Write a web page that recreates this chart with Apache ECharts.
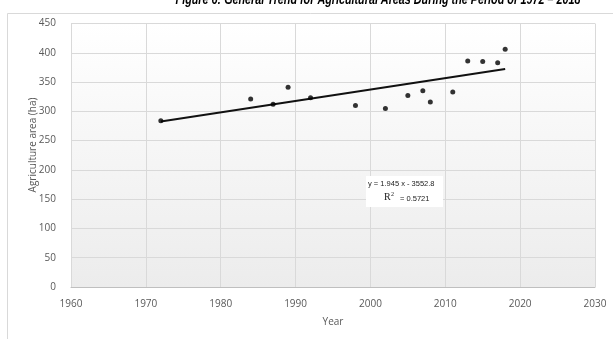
<!DOCTYPE html>
<html>
<head>
<meta charset="utf-8">
<script src="https://cdn.jsdelivr.net/npm/echarts@6/dist/echarts.min.js"></script>
<style>
  html, body { margin: 0; padding: 0; background: #ffffff; }
  #chart { width: 613px; height: 339px; }
</style>
</head>
<body>
<div id="chart"></div>
<script>
// Survey years and measured agricultural area (ha)
const years = [1972, 1984, 1987, 1989, 1992, 1998, 2002, 2005, 2007, 2008, 2011, 2013, 2015, 2017, 2018];
const areas = [284, 321, 312, 341, 323, 310, 305, 327, 335, 316, 333, 386, 385, 383, 406];

// Linear trend reported on the chart
const trendSlope = 1.945;
const trendIntercept = -3552.8;
const trendR2 = '0.5721';

// Axis ranges
const xRange = [1960, 2030];
const yRange = [0, 450];

const titleText = 'Figure 6: General Trend for Agricultural Areas During the Period of 1972 \u2013 2018';
const yAxisTitle = 'Agriculture area (ha)';

const points = years.map((y, i) => [y, areas[i]]);
const trendYears = [years[0], years[years.length - 1]];
const trendPoints = trendYears.map(x => [x, +(trendSlope * x + trendIntercept).toFixed(2)]);

const chart = echarts.init(document.getElementById('chart'), null, { renderer: 'canvas' });

const labelFont = 'Open Sans';
const axisGray = '#595959';

chart.setOption({
  animation: false,
  backgroundColor: '#ffffff',
  textStyle: { fontFamily: labelFont },
  grid: { left: 71, right: 18, top: 23.5, bottom: 52, containLabel: false },
  xAxis: {
    type: 'value',
    min: xRange[0], max: xRange[1], interval: 10,
    name: 'Year', nameLocation: 'middle', nameGap: 30,
    nameTextStyle: { color: axisGray, fontSize: 10, fontFamily: labelFont },
    axisLine: { lineStyle: { color: '#bfbfbf', width: 1 } },
    axisTick: { show: false },
    axisLabel: { color: axisGray, fontSize: 10, margin: 12, fontFamily: labelFont,
      formatter: v => String(v) },
    splitLine: { show: true, lineStyle: { color: '#d9d9d9', width: 1 } }
  },
  yAxis: {
    type: 'value',
    min: yRange[0], max: yRange[1], interval: 50,
    axisLine: { show: false },
    axisTick: { show: false },
    axisLabel: { color: axisGray, fontSize: 10, margin: 15, fontFamily: labelFont },
    splitLine: { show: true, lineStyle: { color: '#d9d9d9', width: 1 } }
  },
  graphic: [
    // outer chart frame
    { type: 'rect', z: -10, silent: true,
      shape: { x: 7.5, y: 13.5, width: 700, height: 400 },
      style: { fill: null, stroke: '#d9d9d9', lineWidth: 1 } },
    // soft shaded plot background
    { type: 'rect', z: -5, silent: true,
      shape: { x: 71, y: 23.5, width: 524, height: 263.5 },
      style: {
        fill: new echarts.graphic.LinearGradient(0, 0, 0, 1, [
          { offset: 0, color: '#ffffff' },
          { offset: 1, color: '#ececec' }
        ])
      } },
    // vertical axis title
    { type: 'text', x: 33, y: 145, rotation: Math.PI / 2, silent: true,
      style: { text: yAxisTitle, fill: axisGray, align: 'center', verticalAlign: 'middle',
        font: '10px "Open Sans", sans-serif' } },
    // title, partly above the frame
    { type: 'text', x: 378, y: 0, scaleX: 0.77, silent: true,
      style: { text: titleText, fill: '#000000', align: 'center', verticalAlign: 'middle',
        font: 'bold italic 14px "Liberation Sans", sans-serif' } },
    // trend equation box
    { type: 'rect', silent: true, z: 20,
      shape: { x: 366, y: 176, width: 77, height: 31 },
      style: { fill: '#ffffff' } },
    { type: 'text', silent: true, z: 21, x: 368, y: 180,
      style: { text: 'y = ' + trendSlope + ' x - ' + Math.abs(trendIntercept), fill: '#222222', font: '7.5px "Liberation Sans", sans-serif' } },
    { type: 'text', silent: true, z: 21, x: 384, y: 192,
      style: { text: 'R', fill: '#222222', font: '10px "Liberation Serif", serif' } },
    { type: 'text', silent: true, z: 21, x: 391, y: 191,
      style: { text: '2', fill: '#222222', font: '6px "Liberation Serif", serif' } },
    { type: 'text', silent: true, z: 21, x: 400, y: 195,
      style: { text: '= ' + trendR2, fill: '#222222', font: '7.5px "Liberation Sans", sans-serif' } }
  ],
  series: [
    {
      type: 'line',
      data: trendPoints,
      symbol: 'none',
      lineStyle: { color: '#111111', width: 2 },
      z: 3
    },
    {
      type: 'scatter',
      data: points,
      symbol: 'circle',
      symbolSize: 5,
      itemStyle: { color: '#000000' },
      z: 4
    }
  ]
});
</script>
</body>
</html>
